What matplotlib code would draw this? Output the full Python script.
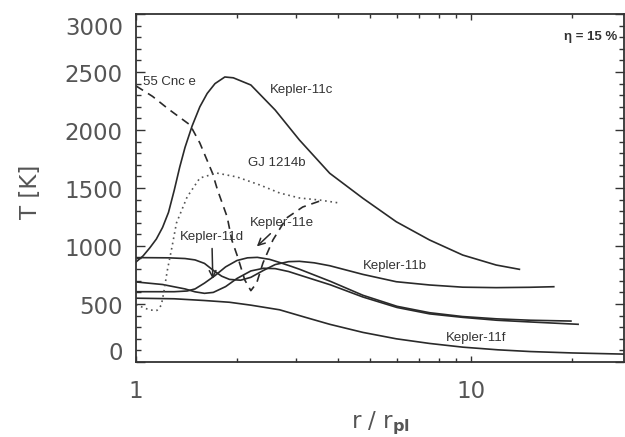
import numpy as np
import matplotlib
matplotlib.use("Agg")
import matplotlib.pyplot as plt
import matplotlib.transforms as mtransforms
from matplotlib.ticker import MultipleLocator, FixedLocator, NullFormatter

# temperature profiles T(r) for eta = 15 %
r_11c = [1.0, 1.05, 1.10, 1.15, 1.2, 1.25, 1.30, 1.35, 1.40, 1.47, 1.55, 1.63,
         1.72, 1.84, 1.95, 2.2, 2.6, 3.07, 3.78, 4.75, 5.97, 7.5, 9.42, 11.85, 13.9]
T_11c = [862, 915, 985, 1060, 1160, 1290, 1480, 1680, 1850, 2035, 2200, 2315,
         2400, 2457, 2450, 2388, 2172, 1914, 1627, 1411, 1209, 1052, 922, 836, 799]

r_11b = [1.0, 1.25, 1.4, 1.5, 1.6, 1.7, 1.8, 1.9, 2.05, 2.2, 2.4, 2.6, 2.85,
         3.07, 3.4, 3.78, 4.75, 5.97, 7.5, 9.42, 11.85, 14.9, 17.6]
T_11b = [900, 898, 892, 880, 850, 790, 740, 712, 705, 730, 790, 840, 865,
         868, 855, 830, 755, 692, 664, 645, 641, 644, 649]

r_11d = [1.0, 1.2, 1.4, 1.5, 1.6, 1.7, 1.85, 2.0, 2.2, 2.4, 2.6, 2.85, 3.07,
         3.8, 4.75, 6.0, 7.5, 9.4, 11.9, 15.0, 20.8]
T_11d = [690, 668, 630, 605, 592, 600, 650, 720, 785, 808, 805, 780, 750,
         665, 560, 470, 415, 385, 360, 345, 325]

r_11e = [1.0, 1.3, 1.42, 1.5, 1.6, 1.72, 1.85, 2.0, 2.15, 2.3, 2.5, 2.7, 2.9,
         3.07, 3.8, 4.75, 6.0, 7.5, 9.4, 11.9, 15.0, 19.8]
T_11e = [606, 606, 612, 630, 680, 745, 820, 875, 898, 902, 885, 855, 825,
         800, 695, 575, 480, 425, 392, 372, 360, 353]

r_11f = [1.0, 1.3, 1.6, 1.9, 2.2, 2.68, 3.2, 3.78, 4.75, 5.97, 7.5, 9.42, 12.0,
         15.0, 20.0, 28.5]
T_11f = [550, 545, 530, 515, 490, 450, 385, 325, 255, 200, 160, 128, 105,
         90, 78, 68]

r_cnc = [1.0, 1.12, 1.25, 1.45, 1.55, 1.69, 1.75, 1.87, 1.93, 2.01, 2.11, 2.2,
         2.29, 2.39, 2.56, 2.81, 3.14, 3.6]
T_cnc = [2380, 2290, 2180, 2043, 1888, 1629, 1483, 1250, 1052, 905, 707, 615,
         681, 853, 1052, 1241, 1336, 1396]

r_gj = [1.0, 1.05, 1.10, 1.155, 1.19, 1.21, 1.24, 1.28, 1.32, 1.42, 1.55, 1.74,
        2.0, 2.34, 2.68, 3.07, 3.53, 4.05]
T_gj = [495, 470, 448, 445, 490, 600, 790, 990, 1198, 1422, 1586, 1629,
        1595, 1526, 1457, 1414, 1396, 1370]

y_ticks = [0, 500, 1000, 1500, 2000, 2500, 3000]

fig = plt.figure(figsize=(6.25, 4.37), dpi=100)
ax = fig.add_axes([136 / 625, 75 / 437, 488 / 625, 348 / 437])

lc = "#2a2a2a"
for r, T in [(r_11c, T_11c), (r_11b, T_11b), (r_11d, T_11d),
             (r_11e, T_11e), (r_11f, T_11f)]:
    ax.plot(r, T, color=lc, lw=1.2)
ax.plot(r_cnc, T_cnc, color=lc, lw=1.2, dashes=(5, 3.5))
ax.plot(r_gj, T_gj, color="#555555", lw=1.2, linestyle=(0, (1, 2.2)))

ax.set_xscale("log")
ax.set_xlim(1, 28.5)
ax.set_ylim(0, 3000)

# axes styling
for s in ax.spines.values():
    s.set_color("#333333")
    s.set_linewidth(1.3)
ax.xaxis.set_major_locator(FixedLocator([1, 10]))
ax.xaxis.set_minor_locator(FixedLocator([2, 3, 4, 5, 6, 7, 8, 9, 20]))
ax.xaxis.set_minor_formatter(NullFormatter())
ax.set_xticklabels(["1", "10"])
ax.set_yticks(y_ticks)
ax.yaxis.set_minor_locator(MultipleLocator(100))
ax.tick_params(which="both", direction="in", top=True, right=True,
               color="#333333", width=1.0, labelcolor="#555555", labelsize=16.5)
ax.tick_params(axis="y", which="major", length=6.5, labelleft=False)
ax.tick_params(axis="y", which="minor", length=3.5)
ax.tick_params(axis="x", which="major", length=4.5, pad=13)
ax.tick_params(axis="x", which="minor", length=3)

# y tick labels, end labels kept inside the axis span
ytrans = mtransforms.offset_copy(ax.get_yaxis_transform(), fig=fig, y=-3, units="dots")
for v in y_ticks:
    va = "top" if v == y_ticks[-1] else ("bottom" if v == 0 else "center")
    ax.text(-0.027, v, str(v), transform=ytrans, ha="right", va=va,
            fontsize=16.5, color="#555555")

ax.text(-0.217, 0.49, "T [K]", transform=ax.transAxes, rotation=90,
        ha="center", va="center", fontsize=16.5, color="#555555")
ax.set_xlabel(r"r / r$_\mathbf{pl}$", fontsize=16.5, color="#555555", labelpad=5)

# curve labels
tk = dict(fontsize=9.5, color="#333333", family="Liberation Sans")
ax.text(1.049, 2414, "55 Cnc e", ha="left", va="center", **tk)
ax.text(3.117, 2345, "Kepler-11c", ha="center", va="center", **tk)
ax.text(2.627, 1715, "GJ 1214b", ha="center", va="center", **tk)
ax.text(5.9, 828, "Kepler-11b", ha="center", va="center", **tk)
ax.text(10.34, 207, "Kepler-11f", ha="center", va="center", **tk)

arrow = dict(arrowstyle="->", color="#2a2a2a", lw=1.1, mutation_scale=12)
ax.annotate("Kepler-11d", xy=(1.695, 692), xytext=(1.683, 1078),
            ha="center", va="center", arrowprops=arrow, **tk)
ax.annotate("Kepler-11e", xy=(2.261, 980), xytext=(2.72, 1198),
            ha="center", va="center", arrowprops=arrow, **tk)

ax.text(0.932, 0.934, "η = 15 %", transform=ax.transAxes, ha="center",
        va="center", fontsize=9.5, fontweight="bold", color="#333333",
        family="Liberation Sans")

fig.savefig("out.png", dpi=100)
